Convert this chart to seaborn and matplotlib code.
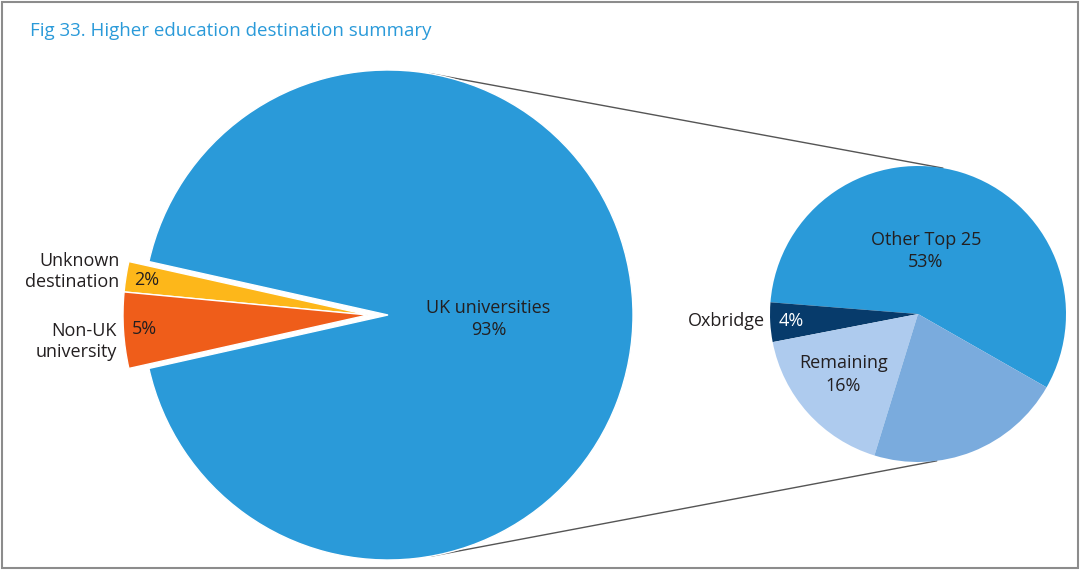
import numpy as np
import matplotlib.pyplot as plt
from matplotlib.patches import Rectangle
import seaborn as sns

# left pie: all higher education destinations
dest_labels = ["Unknown\ndestination", "Non-UK\nuniversity", "UK universities"]
dest_values = [2, 5, 93]
dest_colors = ["#FDB71A", "#EF5D1A", "#2A9AD9"]

# right pie: breakdown of UK universities (share of all destinations)
uk_labels = ["Other Top 25", "Oxbridge", "Remaining", ""]
uk_values = [53, 4, 16, 20]
uk_colors = ["#2A9AD9", "#073B6B", "#AECBEE", "#7AABDD"]

sns.set_theme(style="white")
plt.rcParams["font.family"] = ["Open Sans", "DejaVu Sans"]
text_col = "#231F20"
fs = 13

fig = plt.figure(figsize=(10.8, 5.7), dpi=100)
ax = fig.add_axes([0, 0, 1, 1])

# ---- left pie ----
L_c, L_r = (388, 255), 245
shift = 20
small_share = sum(dest_values[:2]) / sum(dest_values)
wl, _ = ax.pie(dest_values, colors=dest_colors, center=L_c, radius=L_r,
               startangle=180 - small_share * 180, counterclock=True,
               wedgeprops=dict(edgecolor="white", linewidth=1))
# pull the two small slices out together
for w in wl[:2]:
    w.set_center((L_c[0] - shift, L_c[1]))

def mid(w):
    return np.deg2rad((w.theta1 + w.theta2) / 2)

for w, lab, v in zip(wl[:2], dest_labels[:2], dest_values[:2]):
    a = mid(w)
    cx, cy = w.center
    x = cx + 0.92 * L_r * np.cos(a)
    y = cy + 0.92 * L_r * np.sin(a)
    ax.text(x - 11, y, f"{v}%", ha="left", va="center", fontsize=fs, color=text_col)
    ax.text(x - 26, y + (8 if v == 2 else -12), lab, ha="right", va="center",
            fontsize=fs, color=text_col, linespacing=1.2)

a = mid(wl[2])
ax.text(L_c[0] + 0.41 * L_r * np.cos(a), L_c[1] + 0.41 * L_r * np.sin(a) - 4,
        f"{dest_labels[2]}\n{dest_values[2]}%", ha="center", va="center",
        fontsize=fs, color=text_col, linespacing=1.3)

# ---- right pie ----
R_c, R_r = (918, 256), 148
wr, _ = ax.pie(uk_values, colors=uk_colors, center=R_c, radius=R_r,
               startangle=-29.7, counterclock=True,
               wedgeprops=dict(linewidth=0))

# label placement (distance, angle override) per slice
place = {"Other Top 25": (0.43, 83), "Remaining": (0.65, 219)}
for w, lab, v in zip(wr, uk_labels, uk_values):
    if not lab:
        continue
    if lab == "Oxbridge":
        a = mid(w)
        x = R_c[0] + 0.85 * R_r * np.cos(a)
        y = R_c[1] + 0.85 * R_r * np.sin(a)
        ax.text(x - 1, y, f"{v}%", ha="center", va="center", fontsize=fs, color="white")
        ax.text(x - 27, y, lab, ha="right", va="center", fontsize=fs, color=text_col)
    else:
        d, ang = place[lab]
        a = np.deg2rad(ang)
        ax.text(R_c[0] + d * R_r * np.cos(a), R_c[1] + d * R_r * np.sin(a),
                f"{lab}\n{v}%", ha="center", va="center", fontsize=fs,
                color=text_col, linespacing=1.3)

# connector lines between the pies
for la, ra in [(80.3, 80.3), (-79.8, -82.7)]:
    p1 = (L_c[0] + L_r * np.cos(np.deg2rad(la)), L_c[1] + L_r * np.sin(np.deg2rad(la)))
    p2 = (R_c[0] + R_r * np.cos(np.deg2rad(ra)), R_c[1] + R_r * np.sin(np.deg2rad(ra)))
    ax.plot([p1[0], p2[0]], [p1[1], p2[1]], color="#555555", lw=1, zorder=0)

ax.text(30, 539, "Fig 33. Higher education destination summary", ha="left",
        va="center", fontsize=13.5, color="#2A9AD9")

ax.add_patch(Rectangle((2, 2), 1076, 566, fill=False, edgecolor="#8C8C8C", lw=1.5))

# pie() resets the limits, so fix the canvas afterwards
ax.set_xlim(0, 1080)
ax.set_ylim(0, 570)
ax.set_aspect("equal")
ax.axis("off")

plt.savefig("out.png", dpi=100)
